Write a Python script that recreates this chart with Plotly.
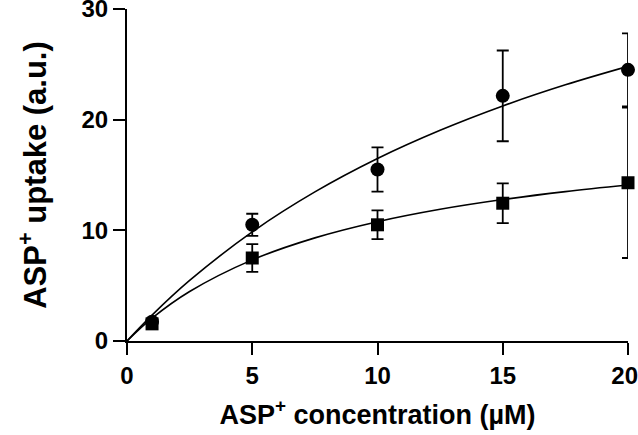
import plotly.graph_objects as go

# Measured data
conc = [1, 5, 10, 15, 20]
circle_mean = [1.75, 10.5, 15.5, 22.15, 24.5]
circle_err = [0.0, 1.0, 2.0, 4.1, 3.3]
square_mean = [1.55, 7.5, 10.5, 12.45, 14.3]
square_err = [0.0, 1.25, 1.3, 1.8, 6.8]

# Fitted curves
curve_x = [0, 1, 2.5, 5, 7.5, 10, 12.5, 15, 17.5, 20]
circle_curve = [0, 2.34, 5.47, 9.86, 13.47, 16.49, 19.04, 21.24, 23.15, 24.82]
square_curve = [0, 2.06, 4.47, 7.33, 9.32, 10.78, 11.90, 12.78, 13.50, 14.09]

x_ticks = [0, 5, 10, 15, 20]
x_tick_labels = ["0", "5", "10", "15", "20\u00a0"]
y_ticks = [0, 10, 20, 30]

FONT = "Arial, 'Liberation Sans', sans-serif"

fig = go.Figure()
fig.add_trace(go.Scatter(x=curve_x, y=circle_curve, mode="lines",
                         line=dict(color="black", width=1.6, shape="spline"),
                         cliponaxis=False, showlegend=False))
fig.add_trace(go.Scatter(x=curve_x, y=square_curve, mode="lines",
                         line=dict(color="black", width=1.6, shape="spline"),
                         cliponaxis=False, showlegend=False))
fig.add_trace(go.Scatter(x=conc, y=circle_mean, mode="markers",
                         marker=dict(symbol="circle", size=14, color="black"),
                         error_y=dict(type="data", array=circle_err, visible=True,
                                      color="black", thickness=1.8, width=6),
                         cliponaxis=False, showlegend=False))
fig.add_trace(go.Scatter(x=conc, y=square_mean, mode="markers",
                         marker=dict(symbol="square", size=13, color="black"),
                         error_y=dict(type="data", array=square_err, visible=True,
                                      color="black", thickness=1.8, width=6),
                         cliponaxis=False, showlegend=False))

axis_common = dict(showline=True, linecolor="black", linewidth=2.2,
                   ticks="outside", ticklen=12, tickwidth=2.2, tickcolor="black",
                   showgrid=False, zeroline=False, automargin=False,
                   ticklabeloverflow="allow",
                   tickfont=dict(family=FONT, size=24, color="black", weight="bold"))

fig.update_xaxes(range=[0, 20], tickvals=x_ticks, ticktext=x_tick_labels,
                 title=dict(text="ASP<sup>+</sup> concentration (µM)",
                            font=dict(family=FONT, size=27, color="black", weight="bold"),
                            standoff=17),
                 **axis_common)
fig.update_yaxes(range=[0, 30], tickvals=y_ticks,
                 title=dict(text="ASP<sup>+</sup> uptake (a.u.)",
                            font=dict(family=FONT, size=31, color="black", weight="bold"),
                            standoff=26),
                 **axis_common)

fig.update_layout(width=638, height=435,
                  margin=dict(l=127, r=10, t=9, b=94),
                  plot_bgcolor="white", paper_bgcolor="white")

fig.write_html("out.html", config={"displayModeBar": False},
               post_script="document.body.style.margin='0';document.body.style.overflow='hidden';")
